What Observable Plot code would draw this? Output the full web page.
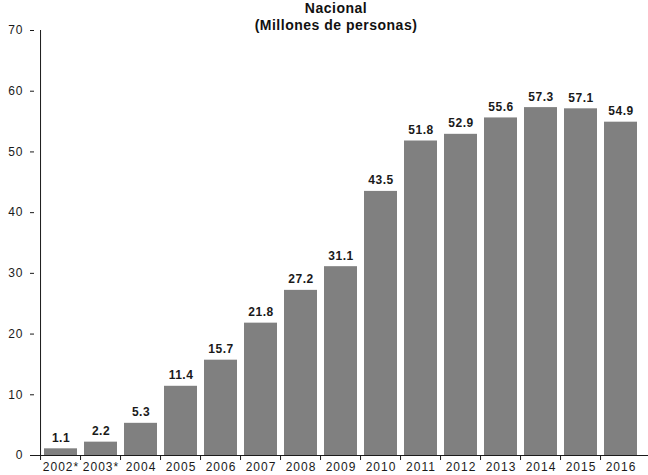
<!DOCTYPE html>
<html>
<head>
<meta charset="utf-8">
<script src="https://cdn.jsdelivr.net/npm/d3@7"></script>
<script src="https://cdn.jsdelivr.net/npm/@observablehq/plot@0.6"></script>
<style>
  html, body { margin: 0; padding: 0; background: #fff; }
  #wrap { position: relative; width: 648px; height: 475px; font-family: "Liberation Sans", Arial, sans-serif; }
  #title { position: absolute; left: 186px; width: 300px; top: 0px; text-align: center; font-weight: bold; font-size: 14px; line-height: 17px; letter-spacing: 0.5px; color: #111; }
  svg { display: block; }
  svg g[aria-label="y-axis tick label"] text, svg g[aria-label="x-axis tick label"] text { letter-spacing: 1px; }
  svg g[aria-label="text"] text { letter-spacing: 0.5px; }
</style>
</head>
<body>
<div id="wrap">
  <div id="chart"></div>
  <div id="title">Nacional<br>(Millones de personas)</div>
</div>
<script>
const years = ["2002*", "2003*", "2004", "2005", "2006", "2007", "2008", "2009", "2010", "2011", "2012", "2013", "2014", "2015", "2016"];
const values = [1.1, 2.2, 5.3, 11.4, 15.7, 21.8, 27.2, 31.1, 43.5, 51.8, 52.9, 55.6, 57.3, 57.1, 54.9];
const yTicks = [0, 10, 20, 30, 40, 50, 60, 70];

const data = years.map((y, i) => ({year: y, value: values[i]}));

const W = 648, H = 475, mL = 34, mR = 0, mT = 30, mB = 20;
const step = (W - mL - mR) / years.length;
const frameH = H - mT - mB;

const chart = Plot.plot({
  width: W,
  height: H,
  marginLeft: mL,
  marginRight: mR,
  marginTop: mT,
  marginBottom: mB,
  style: {fontFamily: "'Liberation Sans', Arial, sans-serif", fontSize: "12px", color: "#1a1a1a", background: "#fff"},
  x: {domain: years, paddingInner: 0.17, paddingOuter: 0.085, label: null},
  y: {domain: [0, 70], label: null},
  marks: [
    Plot.barY(data, {x: "year", y: "value", fill: "#808080"}),
    Plot.text(data, {x: "year", y: "value", text: d => d.value.toFixed(1), lineAnchor: "bottom", dy: -7, fontWeight: "bold", fontSize: 12, fill: "#1a1a1a"}),
    Plot.axisY({ticks: yTicks, tickSize: 4, tickPadding: 7, fontSize: 12, label: null, stroke: "#1a1a1a"}),
    Plot.axisX({tickSize: 0, tickPadding: 7, fontSize: 12, label: null}),
    Plot.ruleX(years, {dx: -step / 2, insetTop: frameH, insetBottom: -5, stroke: "#1a1a1a"}),
    Plot.ruleX([years[0]], {dx: -step / 2, stroke: "#1a1a1a"}),
    Plot.ruleY([0], {stroke: "#1a1a1a"})
  ]
});
document.getElementById("chart").appendChild(chart);
</script>
</body>
</html>
